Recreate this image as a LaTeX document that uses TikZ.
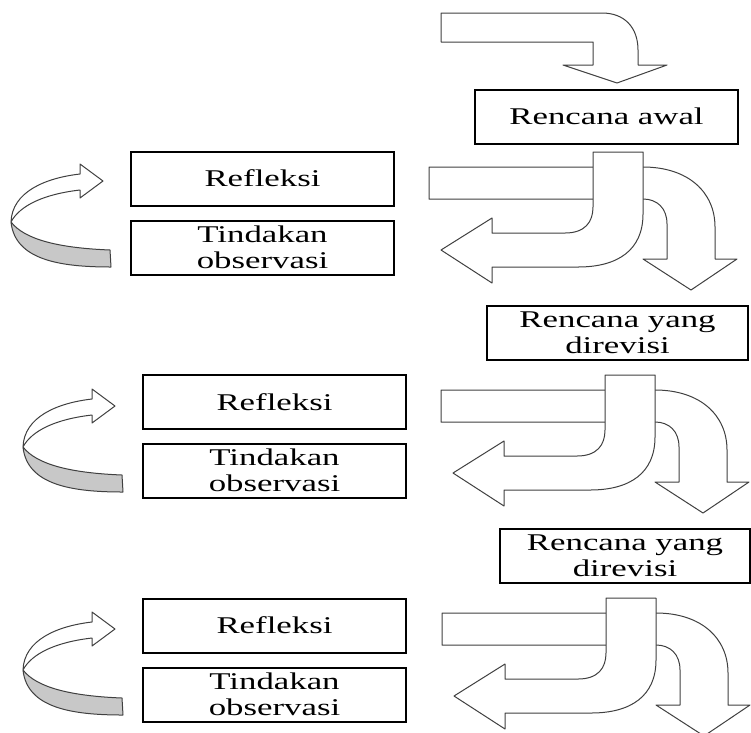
\documentclass[tikz,border=0pt]{standalone}
\usepackage{fontspec}
\setmainfont{Liberation Serif}
\usepackage{graphicx}
\usepackage{xcolor}
\usepackage{tikz}
\definecolor{ribbongray}{HTML}{C8C8C8}
\definecolor{outlinegray}{HTML}{404040}
\newcommand{\stretched}[1]{\scalebox{1.45}[1]{#1}}
\tikzset{
  stepbox/.style={draw=black, line width=2pt, minimum width=263pt, minimum height=54pt, inner sep=0pt, align=center, font=\fontsize{24}{26}\selectfont},
  bigarrow/.style={draw=outlinegray, line width=1pt, fill=white, line join=round},
  splitarrows/.pic={
    % band going right and down
    \draw[bigarrow] (-164,15) -- (50,15) .. controls (95,15) and (122,40) .. (122,75) -- (122,107) -- (144,107) -- (98,138) -- (50,107) -- (74,107) -- (74,72) .. controls (74,56) and (64,47) .. (50,47) -- (-164,47) -- cycle;
    % strip going down and left
    \draw[bigarrow] (0,0) -- (50,0) -- (50,62) .. controls (50,98) and (25,115) .. (-15,115) -- (-101,115) -- (-101,131) -- (-152,98) -- (-101,66) -- (-101,81) -- (-28,81) .. controls (-8,81) and (0,70) .. (0,55) -- cycle;
  },
  looparrow/.pic={
    \draw[bigarrow, fill=ribbongray] (-99,-28) .. controls (-85,-10) and (-50,-2) .. (0,0) -- (1,17) .. controls (-50,17) and (-95,10) .. (-99,-28) -- cycle;
    \draw[bigarrow] (-30,-76) .. controls (-65,-72) and (-98,-58) .. (-99,-28) .. controls (-90,-45) and (-65,-56) .. (-30,-60) -- (-30,-52) -- (-7,-69) -- (-30,-86) -- cycle;
  }
}
\begin{document}
\begin{tikzpicture}[x=1pt, y=-1pt]
    \useasboundingbox (0,0) rectangle (751,732);

    % Start
    \draw[bigarrow] (441,13) -- (602,13) .. controls (625,13) and (638,28) .. (638,50) -- (638,65) -- (667,65) -- (617,83) -- (563,65) -- (593,65) -- (593,42) -- (441,42) -- cycle;
    \node[stepbox] (plan0) at (606.5,116.5) {\stretched{Rencana awal}};

    % Cycle 1
    \pic at (593,152) {splitarrows};
    \pic at (110,250) {looparrow};
    \node[stepbox] (reflect1) at (262.5,178.5) {\stretched{Refleksi}};
    \node[stepbox] (act1) at (262.5,247.5) {\stretched{Tindakan}\\\stretched{observasi}};
    \node[stepbox, minimum width=261pt] (plan1) at (617.5,332.5) {\stretched{Rencana yang}\\\stretched{direvisi}};

    % Cycle 2
    \pic at (605,375) {splitarrows};
    \pic at (122,475) {looparrow};
    \node[stepbox] (reflect2) at (274.5,402) {\stretched{Refleksi}};
    \node[stepbox] (act2) at (274.5,470.5) {\stretched{Tindakan}\\\stretched{observasi}};
    \node[stepbox, minimum width=250pt] (plan2) at (625,555.5) {\stretched{Rencana yang}\\\stretched{direvisi}};

    % Cycle 3
    \pic at (606,598) {splitarrows};
    \pic at (122,698) {looparrow};
    \node[stepbox] (reflect3) at (274.5,625.5) {\stretched{Refleksi}};
    \node[stepbox] (act3) at (274.5,694.5) {\stretched{Tindakan}\\\stretched{observasi}};
\end{tikzpicture}
\end{document}
